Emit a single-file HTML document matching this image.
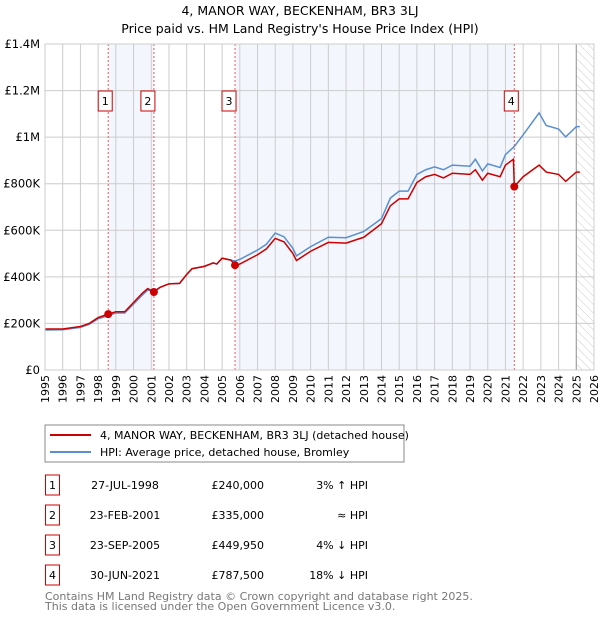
<!DOCTYPE html>
<html><head><meta charset="utf-8"><style>
body{margin:0;background:#fff;font-family:"DejaVu Sans","Liberation Sans",sans-serif}
svg text{font-family:"DejaVu Sans","Liberation Sans",sans-serif}
</style></head><body>
<svg id="c" width="600" height="620" viewBox="0 0 600 620">
<defs><pattern id="hatch" width="6" height="6" patternUnits="userSpaceOnUse" patternTransform="rotate(-45)"><line x1="0" y1="0" x2="0" y2="6" stroke="#ccc" stroke-width="1"/></pattern></defs>
<text x="300" y="15" text-anchor="middle" font-size="12.5">4, MANOR WAY, BECKENHAM, BR3 3LJ</text>
<text x="300" y="33" text-anchor="middle" font-size="12.5">Price paid vs. HM Land Registry's House Price Index (HPI)</text>
<g id="plot"></g>
<rect x="45" y="425" width="359" height="37" fill="#fff" stroke="#888"/>
<line x1="50" y1="435" x2="91" y2="435" stroke="#cc0000" stroke-width="2"/>
<text x="100" y="439" font-size="11">4, MANOR WAY, BECKENHAM, BR3 3LJ (detached house)</text>
<line x1="50" y1="452" x2="91" y2="452" stroke="#5b8fd0" stroke-width="2"/>
<text x="100" y="456" font-size="11">HPI: Average price, detached house, Bromley</text>
<g id="tbl" font-size="11"></g>
<text x="45" y="600" font-size="11" fill="#777">Contains HM Land Registry data © Crown copyright and database right 2025.</text>
<text x="45" y="610" font-size="11" fill="#777">This data is licensed under the Open Government Licence v3.0.</text>
</svg>
<script>
const years=[1995,1996,1997,1998,1999,2000,2001,2002,2003,2004,2005,2006,2007,2008,2009,2010,2011,2012,2013,2014,2015,2016,2017,2018,2019,2020,2021,2022,2023,2024,2025,2026];
const yTicks=[0,200000,400000,600000,800000,1000000,1200000,1400000];
const yLabels=["£0","£200K","£400K","£600K","£800K","£1M","£1.2M","£1.4M"];
const saleDates=[1998.57,2001.15,2005.73,2021.5];
const salePrices=[240000,335000,449950,787500];
const saleLabels=["1","2","3","4"];
const saleDateText=["27-JUL-1998","23-FEB-2001","23-SEP-2005","30-JUN-2021"];
const salePriceText=["£240,000","£335,000","£449,950","£787,500"];
const saleHpiText=["3% ↑ HPI","≈ HPI","4% ↓ HPI","18% ↓ HPI"];
const priceT=[1995,1996,1997,1997.5,1998,1998.57,1999,1999.5,2000,2000.5,2000.8,2001.15,2001.5,2002,2002.6,2003,2003.3,2004,2004.5,2004.7,2005,2005.5,2005.73,2006,2007,2007.5,2008,2008.5,2009,2009.2,2010,2011,2012,2013,2014,2014.5,2015,2015.5,2016,2016.5,2017,2017.5,2018,2019,2019.3,2019.7,2020,2020.7,2021,2021.45,2021.5,2022,2022.9,2023.3,2024,2024.4,2025,2025.2];
const priceV=[176000,176000,187000,200000,225000,240000,250000,250000,290000,330000,350000,335000,355000,370000,372000,410000,435000,445000,460000,455000,480000,472000,450000,455000,495000,520000,565000,550000,500000,470000,510000,548000,545000,570000,628000,705000,735000,735000,805000,830000,840000,825000,845000,840000,860000,815000,845000,830000,880000,905000,787500,830000,880000,850000,840000,810000,850000,850000];
const hpiT=[1995,1996,1997,1997.5,1998,1998.57,1999,1999.5,2000,2000.5,2000.8,2001.15,2001.5,2002,2002.6,2003,2003.3,2004,2004.5,2004.7,2005,2005.5,2005.73,2006,2007,2007.5,2008,2008.5,2009,2009.2,2010,2011,2012,2013,2014,2014.5,2015,2015.5,2016,2016.5,2017,2017.5,2018,2019,2019.3,2019.7,2020,2020.7,2021,2021.5,2022,2022.9,2023.3,2024,2024.4,2025,2025.2];
const hpiV=[172000,173000,183000,196000,220000,233000,245000,245000,283000,322000,343000,338000,355000,370000,372000,410000,435000,445000,460000,455000,480000,472000,468000,475000,515000,540000,588000,572000,522000,490000,530000,570000,568000,595000,650000,738000,768000,768000,840000,860000,872000,860000,880000,875000,905000,855000,885000,870000,925000,960000,1010000,1104000,1050000,1035000,1001000,1045000,1045000];
const L=45,R=594,T=44,B=370;
const x=v=>L+(v-1995)/31*(R-L), y=v=>B-v/1400000*(B-T);
const NS='http://www.w3.org/2000/svg';
const plot=document.getElementById('plot');
function mk(tag,a,p){const e=document.createElementNS(NS,tag);for(const k in a)e.setAttribute(k,a[k]);(p||plot).appendChild(e);return e;}
let e;
e=mk('rect',{x:x(saleDates[0]),y:T,width:x(saleDates[1])-x(saleDates[0]),height:B-T,fill:'#eef3fc',opacity:0.7});


e=mk('rect',{x:x(saleDates[2]),y:T,width:x(saleDates[3])-x(saleDates[2]),height:B-T,fill:'#eef3fc',opacity:0.7});


e=mk('rect',{x:x(2025),y:T,width:R-x(2025),height:B-T,fill:'url(#hatch)'});


years.forEach(yr=>{e=mk('line',{x1:x(yr),x2:x(yr),y1:T,y2:B,stroke:'#ccc'});


e=mk('text',{transform:`translate(${x(yr)+4},${B+5}) rotate(-90)`,'text-anchor':'end','font-size':11});e.textContent=yr;

});
yTicks.forEach((v,i)=>{e=mk('line',{x1:L,x2:R,y1:y(v),y2:y(v),stroke:'#ccc'});


e=mk('text',{x:L-5,y:y(v)+4,'text-anchor':'end','font-size':11.5});e.textContent=yLabels[i];

});
e=mk('line',{x1:x(2025),x2:x(2025),y1:T,y2:B,stroke:'#999'});


saleDates.forEach((d,i)=>{e=mk('line',{x1:x(d),x2:x(d),y1:T,y2:B,stroke:'#e06060','stroke-dasharray':'2,2'});

});
e=mk('polyline',{points:hpiT.map((t,i)=>x(t)+','+y(hpiV[i])).join(' '),fill:'none',stroke:'#5b8fd0','stroke-width':1.5});


e=mk('polyline',{points:priceT.map((t,i)=>x(t)+','+y(priceV[i])).join(' '),fill:'none',stroke:'#cc0000','stroke-width':1.5});


saleDates.forEach((d,i)=>{e=mk('circle',{cx:x(d),cy:y(salePrices[i]),r:4,fill:'#cc0000'});


const bx=x(d)-(i==3?10:10)-(i==2?3:i==1?3:0);
e=mk('rect',{x:bx,y:91,width:14,height:20,fill:'#fff',stroke:'#cc0000'});


e=mk('text',{x:bx+7,y:105,'text-anchor':'middle','font-size':11});e.textContent=saleLabels[i];

});
e=mk('rect',{x:L,y:T,width:R-L,height:B-T,fill:'none',stroke:'#ccc'});


const tbl=document.getElementById('tbl');
saleLabels.forEach((s,i)=>{const cy=483+i*30;
e=mk('rect',{x:45.5,y:cy-8,width:14,height:20,fill:'#fff',stroke:'#cc0000'},tbl);


e=mk('text',{x:52.5,y:cy+6,'text-anchor':'middle'},tbl);e.textContent=s;


e=mk('text',{x:125,y:cy+6,'text-anchor':'middle'},tbl);e.textContent=saleDateText[i];


e=mk('text',{x:264,y:cy+6,'text-anchor':'end'},tbl);e.textContent=salePriceText[i];


e=mk('text',{x:368,y:cy+6,'text-anchor':'end'},tbl);e.textContent=saleHpiText[i];

});
</script>
</body></html>
